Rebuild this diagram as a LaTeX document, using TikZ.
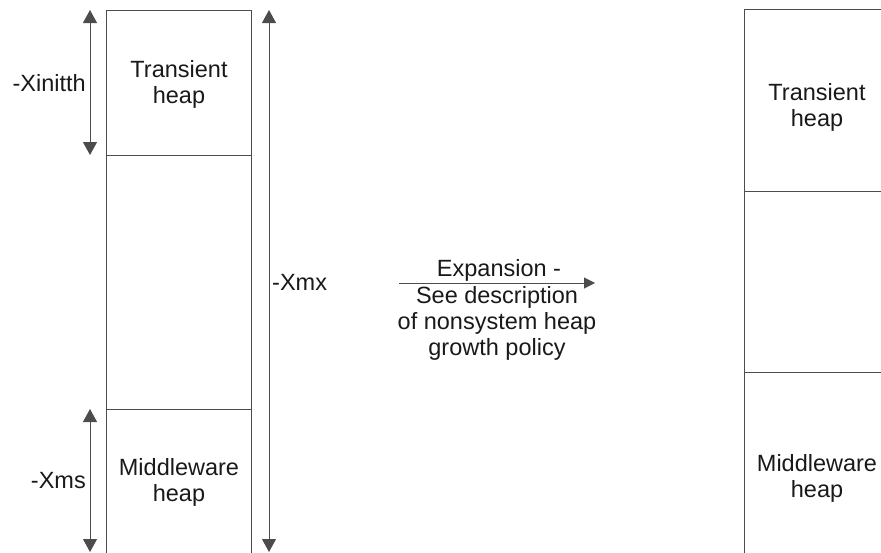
\documentclass[tikz,border=0pt]{standalone}
\usepackage{fontspec}
\setmainfont{Liberation Sans}
\usetikzlibrary{arrows.meta}

\tikzset{
  cell/.style={draw=black!70, line width=1pt, inner sep=0pt, anchor=north west},
  heaptext/.style={align=center, inner sep=0pt, text=black!90,
    font=\fontsize{23.5}{26}\selectfont},
  dim/.style={line width=1pt, draw=black!70,
    {Triangle[width=14pt,length=13pt]}-{Triangle[width=14pt,length=13pt]}},
  growarrow/.style={line width=1pt, draw=black!70, -{Triangle[width=11pt,length=11pt]}},
}

\begin{document}
\begin{tikzpicture}[x=1pt,y=1pt,yscale=-1,xscale=1]
		% Set diagram size to 881 x 552, cells run off the bottom edge
		\clip (0,0) rectangle (881,552);

		% Left heap (initial size)
		\node[cell, minimum width=145pt, minimum height=145pt] (lTrans) at (106,10) {};
		\node[cell, minimum width=145pt, minimum height=254pt] (lMid) at (106,155) {};
		\node[cell, minimum width=145pt, minimum height=160pt] (lMw) at (106,409) {};

		% Right heap (after expansion)
		\node[cell, minimum width=160pt, minimum height=182pt] (rTrans) at (744,9) {};
		\node[cell, minimum width=160pt, minimum height=181pt] (rMid) at (744,191) {};
		\node[cell, minimum width=160pt, minimum height=190pt] (rMw) at (744,372) {};

		% The words in the cells
		\node[heaptext] (lTransTxt) at (179,84) {Transient\\heap};
		\node[heaptext] (lMwTxt) at (179,482) {Middleware\\heap};
		\node[heaptext] (rTransTxt) at (817,107) {Transient\\heap};
		\node[heaptext] (rMwTxt) at (817,478) {Middleware\\heap};

		% End points of the size arrows
		\coordinate (initTop) at (90,10);
		\coordinate (initBot) at (90,155);
		\coordinate (msTop) at (90,409);
		\coordinate (msBot) at (90,552);
		\coordinate (mxTop) at (269,10);
		\coordinate (mxBot) at (269,552);

		% The size arrows and their options
		\draw[dim] (initTop) -- (initBot);
		\draw[dim] (msTop) -- (msBot);
		\draw[dim] (mxTop) -- (mxBot);
		\node[heaptext, anchor=base east] (initLbl) at (86,91) {-Xinitth};
		\node[heaptext, anchor=base east] (msLbl) at (86,488) {-Xms};
		\node[heaptext, anchor=base west] (mxLbl) at (272,290) {-Xmx};

		% Expansion arrow between the two heaps
		\coordinate (growFrom) at (399,283);
		\coordinate (growTo) at (595,283);
		\draw[growarrow] (growFrom) -- (growTo);
		\node[heaptext, anchor=base] (expLbl) at (499,276) {Expansion -};
		\node[heaptext, anchor=north] (descLbl) at (497,286) {See description\\of nonsystem heap\\growth policy};
	\end{tikzpicture}
\end{document}
